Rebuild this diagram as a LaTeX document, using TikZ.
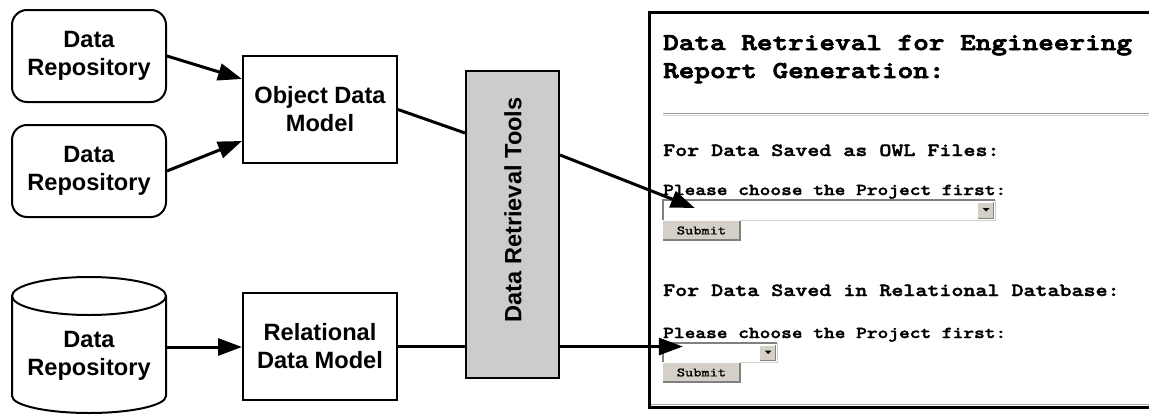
\documentclass[tikz,border=0pt]{standalone}
\usepackage{fontspec}
\usetikzlibrary{arrows.meta,calc}
\newfontfamily\diagfont{Liberation Sans}
\newfontfamily\formtitle{lmmonolt10-bold.otf}[FakeStretch=1.23, FakeBold=3]
\newfontfamily\formbold{lmmonolt10-bold.otf}[FakeStretch=1.23, FakeBold=2]
\newfontfamily\formfont{lmmono10-regular.otf}[FakeStretch=1.23, FakeBold=1]
\definecolor{toolgray}{HTML}{CCCCCC}
\definecolor{btnface}{HTML}{D4D0C8}
\definecolor{btnshadow}{HTML}{808080}

\begin{document}
\begin{tikzpicture}[x=1pt,y=-1pt,
  box/.style={draw, line width=2pt, fill=white, minimum width=154pt, minimum height=107pt,
    align=center, inner sep=0pt, font=\diagfont\bfseries\fontsize{23.6}{28}\selectfont},
  repo/.style={box, rounded corners=15pt, minimum height=92pt},
  labeltext/.style={align=center, inner sep=0pt, font=\diagfont\bfseries\fontsize{23.6}{28}\selectfont},
  flow/.style={line width=3pt},
  arrowto/.style={flow, -{Triangle[length=24pt,width=17pt]}},
  title/.style={anchor=base west, inner sep=0pt, font=\formtitle\fontsize{24.2}{25}\selectfont},
  heading/.style={anchor=base west, inner sep=0pt, font=\formbold\fontsize{18.6}{19}\selectfont},
  prompt/.style={anchor=base west, inner sep=0pt, font=\formbold\fontsize{16.6}{17}\selectfont},
  field/.style={fill=white, inner sep=0pt},
  button/.style={fill=btnface, inner sep=0pt, minimum width=77pt, minimum height=19pt,
    font=\formfont\fontsize{12.7}{13}\selectfont},
]
\clip (0,0) rectangle (1149,415);

% --- sources -----------------------------------------------------------
\node[repo] (r1) at (89,56) {Data\\Repository};
\node[repo] (r2) at (89,171) {Data\\Repository};

% database cylinder
\draw[line width=2pt, fill=white] (12,296) -- (12,396)
  arc[start angle=180, end angle=0, x radius=77, y radius=17] -- (166,296);
\draw[line width=2pt, fill=white] (89,296) ellipse[x radius=77, y radius=19];
\node[labeltext, minimum width=154pt] (cyl) at (89,356) {Data\\Repository};

% --- models ------------------------------------------------------------
\node[box] (odm) at (320,109.5) {Object Data\\Model};
\node[box] (rdm) at (320,346.5) {Relational\\Data Model};

% --- retrieval tools ---------------------------------------------------
\node[draw, line width=2pt, fill=toolgray, minimum width=93pt, minimum height=307pt] (drt) at (512.5,224.5) {};
\node[labeltext, rotate=90] (drtlabel) at (513,210) {Data Retrieval Tools};

% --- web form ----------------------------------------------------------
\draw[btnshadow!70, line width=1pt] (651,404.5) -- (1149,404.5);
\draw[line width=3pt] (649,12) rectangle (1170,407);

\node[title] (t1) at (663,50) {Data Retrieval for Engineering};
\node[title] (t2) at (663,78) {Report Generation:};
\draw[btnshadow!80, line width=1.2pt] (663,113.5) -- (1149,113.5);
\draw[btnface, line width=1pt] (663,115.2) -- (1149,115.2);

\node[heading] (h1) at (663,156) {For Data Saved as OWL Files:};
\node[prompt]  (p1) at (663,195) {Please choose the Project first:};
\node[field, minimum width=332pt, minimum height=20pt] (dd1) at (829,210) {};
\node[button] (sb1) at (701.5,230.5) {Submit};

\node[heading] (h2) at (663,296) {For Data Saved in Relational Database:};
\node[prompt]  (p2) at (663,338) {Please choose the Project first:};
\node[field, minimum width=114pt, minimum height=19pt] (dd2) at (720,352.5) {};
\node[button] (sb2) at (701.5,372.5) {Submit};

% sunken drop-down fields with their arrow buttons
\foreach \f in {dd1,dd2} {
  \draw[btnface, line width=1pt] (\f.south west) -- (\f.south east) -- (\f.north east);
  \draw[btnshadow, line width=1.5pt] (\f.south west) -- (\f.north west) -- (\f.north east);
  \fill[btnface] ($(\f.north east)+(-18,2)$) rectangle ($(\f.south east)+(-1,-1)$);
  \draw[white, line width=0.8pt] ($(\f.south east)+(-17.5,-1.5)$) |- ($(\f.north east)+(-1.5,2.5)$);
  \draw[btnshadow, line width=1pt] ($(\f.north east)+(-1.5,2.5)$) |- ($(\f.south east)+(-17.5,-1.5)$);
  \fill ($(\f.east)+(-12.5,-2)$) -- ++(7,0) -- ++(-3.5,3.5) -- cycle;
}
% raised buttons
\foreach \b in {sb1,sb2} {
  \draw[white, line width=1pt] (\b.south west) -- (\b.north west) -- (\b.north east);
  \draw[btnshadow, line width=1.5pt] (\b.north east) -- (\b.south east) -- (\b.south west);
}

% --- connectors --------------------------------------------------------
\draw[arrowto] (r1.east) -- ([yshift=30.5pt]odm.west);
\draw[arrowto] (r2.east) -- ([yshift=-31.5pt]odm.west);
\coordinate (cylout) at ([yshift=9pt]cyl.east);
\draw[arrowto] (cylout) -- (cylout -| rdm.west);

\draw[flow] (odm.east) -- ([yshift=91.5pt]drt.west);
\draw[flow] (rdm.east) -- (rdm.east -| drt.west);

\draw[arrowto] ([yshift=69.5pt]drt.east) -- ($(dd1.west)+(32,-2)$);
\draw[arrowto] (rdm.east -| drt.east) -- ($(rdm.east -| dd2.west)+(20,0)$);
\end{tikzpicture}
\end{document}
